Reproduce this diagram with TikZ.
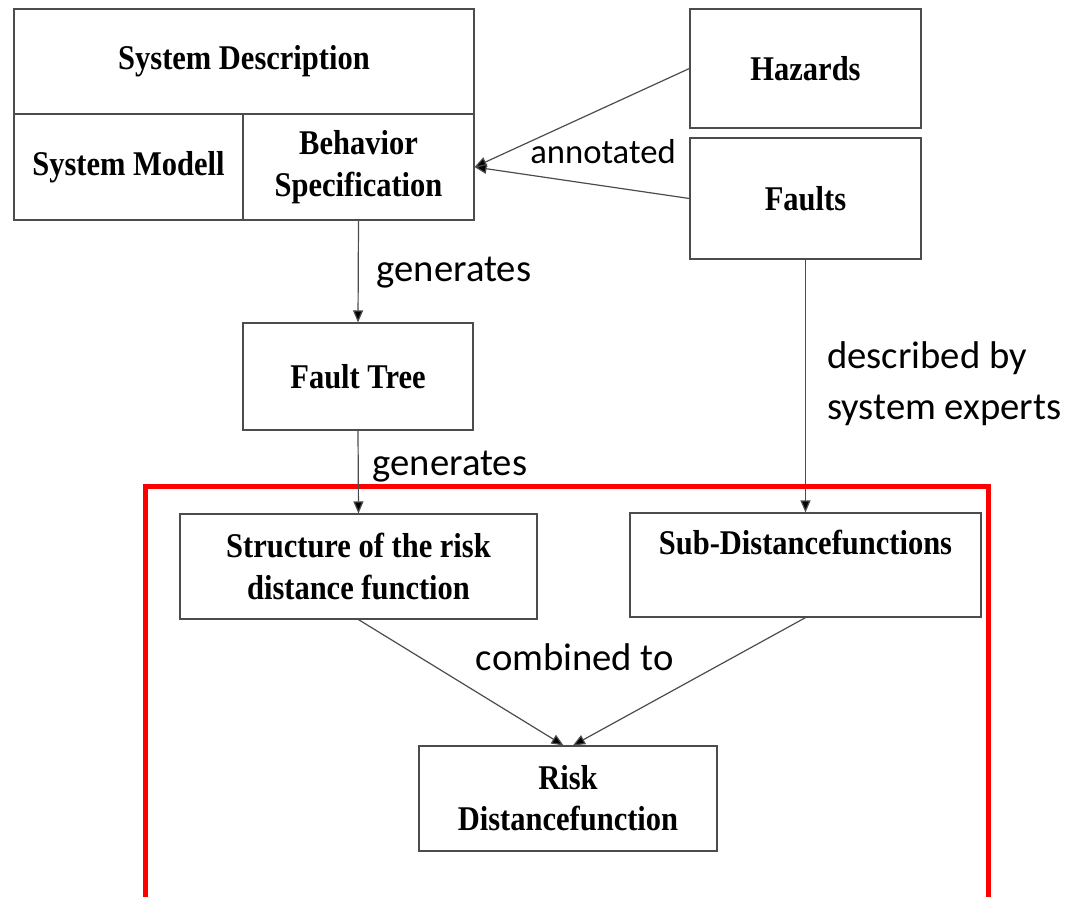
\documentclass[tikz,border=0pt]{standalone}
\usepackage{fontspec}
\setmainfont{Liberation Serif}[FakeStretch=0.88]
\newfontfamily\lblfont{Carlito}
\usetikzlibrary{arrows.meta}
\begin{document}
\begin{tikzpicture}[x=0.75pt,y=-0.75pt,
  box/.style 2 args={draw=black!70, line width=0.9pt, rectangle, inner sep=0pt,
    minimum width=#1*0.75pt, minimum height=#2*0.75pt, align=center,
    font=\bfseries\fontsize{26pt}{31pt}\selectfont},
  lbl/.style={inner sep=0pt, font=\lblfont\fontsize{29pt}{38pt}\selectfont},
  arr/.style={draw=black!70, line width=0.9pt, -{Triangle[length=9pt,width=7.5pt,fill=black]}}]
\useasboundingbox (0,0) rectangle (1075,897);

% system description block
\node[box={460}{105}] (sysdesc) at (244,61.5) {System Description};
\node[box={229}{106}] (sysmod) at (128.5,167) {System Modell};
\node[box={231}{106}] (behav) at (358.5,167) {Behavior\\Specification};

% hazards and faults
\node[box={231}{119}] (hazards) at (805.5,68.5) {Hazards};
\node[box={231}{121}] (faults) at (805.5,198.5) {Faults};

% derived artefacts
\node[box={230}{107}] (ftree) at (358,376.5) {Fault Tree};
\node[box={357}{105}] (struct) at (358.5,566.5) {Structure of the risk\\distance function};
\node[box={351}{104}, text depth=34pt] (subdist) at (805.5,565) {Sub-Distancefunctions};
\node[box={298}{105}] (risk) at (568,798.5) {Risk\\Distancefunction};

% red frame around the distance function part
\draw[red, line width=3.75pt] (145,897) -- (145,486) -- (988,486) -- (988,897);

% connectors
\draw[arr] (hazards.west) -- (behav.east);
\draw[arr] (faults.west) -- (behav.east);
\draw[arr] (behav.south) -- (ftree.north);
\draw[arr] (ftree.south) -- (struct.north);
\draw[arr] (faults.south) -- (subdist.north);
\draw[arr] (struct.south) -- ([xshift=-4.5*0.75pt]risk.north);
\draw[arr] (subdist.south) -- ([xshift=5*0.75pt]risk.north);

% connector labels
\node[lbl, font=\lblfont\fontsize{26pt}{30pt}\selectfont] (annot) at (603,152) {annotated};
\node[lbl] (gen1) at (454,273) {generates};
\node[lbl] (gen2) at (450,467) {generates};
\node[lbl, anchor=west, align=left] (descr) at (827,384) {described by\\system experts};
\node[lbl] (comb) at (575,657) {combined to};
\end{tikzpicture}
\end{document}
